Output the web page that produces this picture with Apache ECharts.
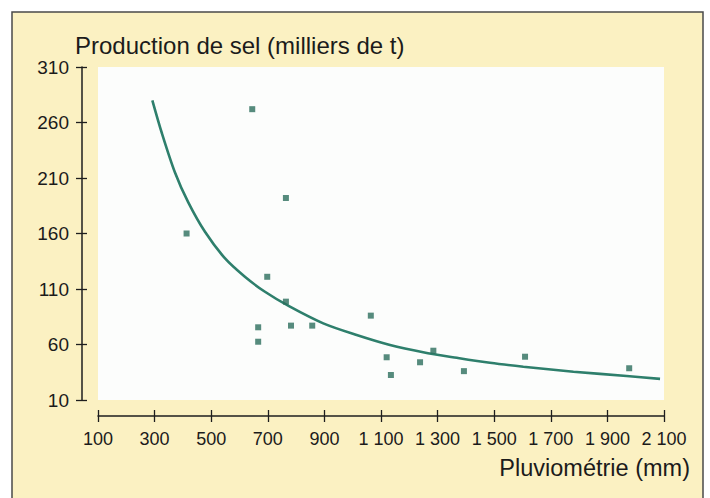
<!DOCTYPE html>
<html>
<head>
<meta charset="utf-8">
<script src="https://cdn.jsdelivr.net/npm/echarts@6/dist/echarts.min.js"></script>
<style>
html,body{margin:0;padding:0;background:#ffffff;}
#chart{width:710px;height:498px;}
</style>
</head>
<body>
<div id="chart"></div>
<script>
const xTickValues = [100, 300, 500, 700, 900, 1100, 1300, 1500, 1700, 1900, 2100];
const xTickLabels = ['100', '300', '500', '700', '900', '1 100', '1 300', '1 500', '1 700', '1 900', '2 100'];
const yTickValues = [10, 60, 110, 160, 210, 260, 310];

const rainfall = [413, 645, 764, 698, 764, 666, 666, 782, 857, 1064, 1120, 1135, 1238, 1285, 1393, 1609, 1977];
const saltProduction = [160, 272, 192, 121, 98.6, 75.5, 62.5, 77, 77, 86, 48.5, 32.5, 44, 54.4, 36, 49, 38.6];

const trendX = [292, 325, 372, 419, 478, 549, 619, 690, 775, 896, 1014, 1132, 1249, 1368, 1485, 1603, 1780, 1968, 2086];
const trendY = [280, 251, 215, 188, 161.5, 137.5, 121, 107.5, 94.5, 79, 68.5, 59.5, 53, 48, 43.5, 40, 35.5, 31.6, 29];

const yTitle = 'Production de sel (milliers de t)';
const xTitle = 'Pluviométrie (mm)';

const FONT = '"Liberation Sans", Arial, Helvetica, sans-serif';
const TXT = '#1b1b1b';
const AX = '#1e1e1e';

const chart = echarts.init(document.getElementById('chart'), null, {renderer: 'svg'});

const scatterData = rainfall.map((x, i) => [x, saltProduction[i]]);
const trendData = trendX.map((x, i) => [x, trendY[i]]);

const xLabelFmt = v => {
  const i = xTickValues.indexOf(v);
  return i >= 0 ? xTickLabels[i] : '';
};

const baseX = {
  type: 'value', min: 100, max: 2100, offset: 16, position: 'bottom',
  splitLine: {show: false}
};
const baseY = {
  type: 'value', min: 10, max: 310, offset: 16, position: 'left',
  splitLine: {show: false}
};

chart.setOption({
  animation: false,
  backgroundColor: '#ffffff',
  graphic: [
    {type: 'rect', z: -10, shape: {x: 12, y: 12, width: 691, height: 500},
     style: {fill: '#fbf1c2', stroke: '#4a4a4a', lineWidth: 1.5}},
    {type: 'text', z: 10, style: {x: 75, y: 45, text: yTitle, font: '24px ' + FONT, fill: TXT, align: 'left', verticalAlign: 'middle'}},
    {type: 'text', z: 10, style: {x: 690, y: 468, text: xTitle, font: '23.5px ' + FONT, fill: TXT, align: 'right', verticalAlign: 'middle'}}
  ],
  grid: {
    left: 98, right: 46, top: 67, bottom: 98,
    show: true, backgroundColor: '#fcfdfc', borderWidth: 0
  },
  xAxis: [
    Object.assign({}, baseX, {
      axisLine: {show: true, lineStyle: {color: AX, width: 1.5}},
      axisTick: {show: true, length: 6, customValues: xTickValues, lineStyle: {color: AX, width: 1.3}},
      axisLabel: {show: true, customValues: xTickValues, formatter: xLabelFmt, margin: 14,
        color: TXT, fontSize: 18, fontFamily: FONT}
    }),
    Object.assign({}, baseX, {
      axisLine: {show: false},
      axisTick: {show: true, inside: true, length: 6, customValues: xTickValues, lineStyle: {color: AX, width: 1.3}},
      axisLabel: {show: false}
    })
  ],
  yAxis: [
    Object.assign({}, baseY, {
      axisLine: {show: true, lineStyle: {color: AX, width: 1.5}},
      axisTick: {show: true, length: 6, customValues: yTickValues, lineStyle: {color: AX, width: 1.3}},
      axisLabel: {show: true, customValues: yTickValues, margin: 13,
        color: TXT, fontSize: 19, fontFamily: FONT}
    }),
    Object.assign({}, baseY, {
      axisLine: {show: false},
      axisTick: {show: true, inside: true, length: 5, customValues: yTickValues, lineStyle: {color: AX, width: 1.3}},
      axisLabel: {show: false}
    })
  ],
  series: [
    {
      type: 'line', xAxisIndex: 0, yAxisIndex: 0,
      data: trendData, smooth: 0.3, showSymbol: false, symbol: 'none',
      lineStyle: {color: '#2e7f6c', width: 2.6}, z: 3
    },
    {
      type: 'scatter', xAxisIndex: 0, yAxisIndex: 0,
      data: scatterData, symbol: 'rect', symbolSize: 6,
      itemStyle: {color: '#2c6e5d'}, z: 4
    }
  ]
});
</script>
</body>
</html>
